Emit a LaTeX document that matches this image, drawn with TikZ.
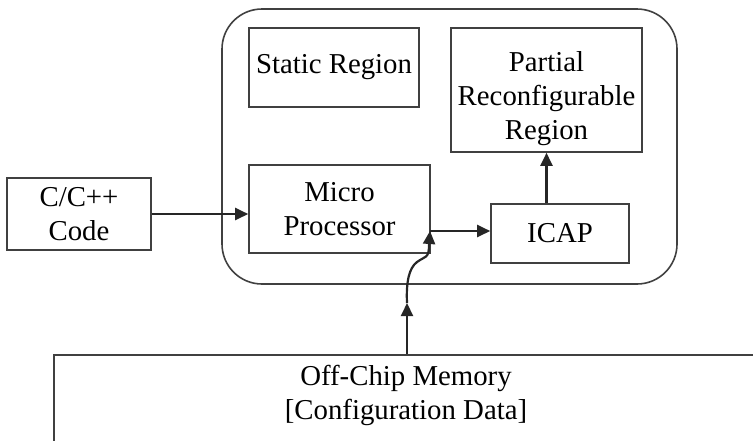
\documentclass[tikz,border=0pt]{standalone}
\usepackage{fontspec}
\setmainfont{Liberation Serif}
\usetikzlibrary{arrows.meta}
\tikzset{
  blk/.style={draw=black!75, line width=0.8pt, align=center, inner sep=0pt},
  arr/.style={draw=black!85, line width=1.1pt, -{Triangle[length=6.5pt,width=6pt]}},
}

\begin{document}
\begin{tikzpicture}[x=0.5pt, y=-0.5pt, font=\fontsize{14.4}{17}\selectfont]
  \useasboundingbox (0,0) rectangle (753,440);

  % Nodes
  \node[blk, rounded corners=20pt, minimum width=227.5pt, minimum height=137.5pt] (chip) at (449.5,146.5) {};
  \node[blk, minimum width=85pt, minimum height=39.5pt] (static) at (334,67.5) {Static Region};
  \node[blk, minimum width=95.5pt, minimum height=62pt] (pr) at (546.5,90) {\rule{0pt}{19pt}Partial\\Reconfigurable\\Region};
  \node[blk, minimum width=90.5pt, minimum height=44pt] (mp) at (339.5,209) {Micro\\Processor};
  \node[blk, minimum width=69pt, minimum height=29.5pt] (icap) at (560,233.5) {ICAP};
  \node[blk, minimum width=72pt, minimum height=36pt] (code) at (79,214) {C/C++\\Code};
  \node[blk, anchor=north, minimum width=352pt, inner ysep=5pt, text depth=40pt] (mem) at (406,354) {Off-Chip Memory\\{[Configuration Data]}};

  \coordinate (join) at (430,231);
  \coordinate (kink) at (407,303);

  % Lines
  \draw[arr] (code.east) -- (code.east -| mp.west);
  \draw[arr] (join) -- (join -| icap.west);
  \draw[arr] (icap.north -| pr.south) -- (pr.south);
  \draw[arr] (mem.north -| kink) -- (kink);
  \draw[arr] (kink) .. controls (406,282) and (409,268) .. (417,262)
                    .. controls (425,256) and (429,259) .. (429,245) -- (join);
\end{tikzpicture}
\end{document}
